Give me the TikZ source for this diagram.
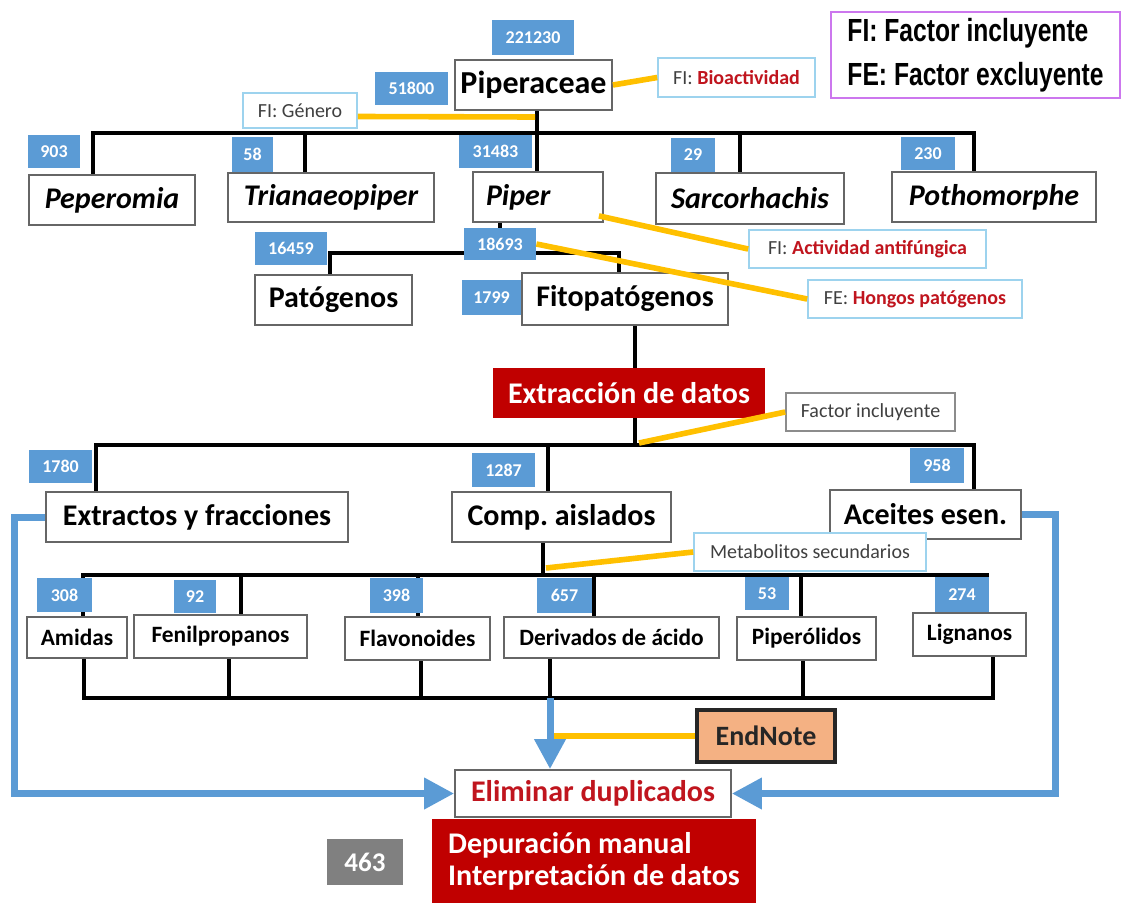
\documentclass[tikz,border=0pt]{standalone}
\usepackage{fontspec}
\setmainfont{Carlito}
\newfontfamily\legendfont[FakeStretch=0.77]{Liberation Sans}
\usetikzlibrary{calc}
\usetikzlibrary{arrows.meta}

\definecolor{cntblue}{HTML}{5B9BD5}
\definecolor{darkred}{HTML}{C00000}
\definecolor{txtred}{HTML}{C0151E}
\definecolor{linkyellow}{HTML}{FFC000}
\definecolor{noteline}{HTML}{9DD3EE}
\definecolor{legendline}{HTML}{CC77EE}
\definecolor{endfill}{HTML}{F4B183}
\newcommand{\fac}[1]{\textcolor{txtred}{\bfseries #1}}
\frenchspacing

\pgfdeclarelayer{back}
\pgfsetlayers{back,main}

\begin{document}
\begin{tikzpicture}[x=0.5pt,y=-0.5pt,
  sz/.style 2 args={minimum width=#1*0.5pt,minimum height=#2*0.5pt},
  gnode/.style={rectangle,draw=black!60,line width=0.9pt,fill=white,inner sep=0pt,font=\fontsize{15}{18}\selectfont\bfseries},
  genus/.style={gnode,font=\fontsize{15}{18}\selectfont\bfseries\itshape},
  class/.style={gnode,font=\fontsize{11.7}{14}\selectfont\bfseries},
  cnt/.style={rectangle,fill=cntblue,text=white,inner sep=0pt,font=\fontsize{9}{10}\selectfont\bfseries},
  note/.style={rectangle,draw=noteline,line width=0.8pt,fill=white,inner sep=0pt,text=black!75,font=\fontsize{10}{12}\selectfont},
  redbox/.style={rectangle,fill=darkred,text=white,inner sep=0pt,font=\fontsize{15}{16}\selectfont\bfseries},
  legend/.style={rectangle,draw=legendline,line width=0.9pt,inner sep=0pt,align=left,font=\legendfont\fontsize{16}{22}\selectfont\bfseries},
  endbox/.style={rectangle,draw=black!85,line width=1.8pt,fill=endfill,inner sep=0pt,text=black!85,font=\fontsize{14}{16}\selectfont\bfseries},
  greybox/.style={rectangle,fill=black!50,text=white,inner sep=0pt,font=\fontsize{13.5}{16}\selectfont\bfseries},
  tree/.style={line width=2pt,black},
  link/.style={line width=2.8pt,linkyellow},
  flow/.style={line width=3.5pt,cntblue,-{Triangle[length=15pt,width=15pt]}}]
\useasboundingbox (0,0) rectangle (1122,904);

% familia
\node[cnt,sz={82}{35}] (n221230) at (533,37.5) {221230};
\node[gnode,sz={157}{50},font=\fontsize{16}{19}\selectfont\bfseries] (piperaceae) at (533.5,85) {Piperaceae};
\node[cnt,sz={73}{33}] (n51800) at (411.5,88.5) {51800};
\node[note,sz={157}{39}] (fibio) at (736.5,77.5) {FI: \fac{Bioactividad}};
\node[legend,sz={289}{86}] (legend) at (975.5,55) {FI: Factor incluyente\\FE: Factor excluyente};
\node[note,sz={114}{35}] (figen) at (300,110.5) {FI: Género};

% generos
\node[genus,sz={166}{50}] (peperomia) at (112,200) {Peperomia};
\node[genus,sz={206}{49}] (trianaeopiper) at (331,197.5) {Trianaeopiper};
\node[genus,sz={130}{50},text width=52pt,align=left] (piper) at (538,197) {Piper};
\node[genus,sz={188}{51}] (sarcorhachis) at (750,198.5) {Sarcorhachis};
\node[genus,sz={204}{50}] (pothomorphe) at (994,197) {Pothomorphe};
\node[cnt,sz={52}{33}] (n903) at (54,151.5) {903};
\node[cnt,sz={41}{35}] (n58) at (252.5,154.5) {58};
\node[cnt,sz={73}{33}] (n31483) at (495.5,151.5) {31483};
\node[cnt,sz={44}{34}] (n29) at (693,155) {29};
\node[cnt,sz={54}{33}] (n230) at (928,153.5) {230};

% patogenos
\node[cnt,sz={72}{33}] (n16459) at (291,248.5) {16459};
\node[cnt,sz={72}{32}] (n18693) at (500,244) {18693};
\node[gnode,sz={157}{50}] (patogenos) at (333.5,300) {Patógenos};
\node[cnt,sz={59}{35}] (n1799) at (491.5,297.5) {1799};
\node[gnode,sz={206}{52}] (fitopatogenos) at (625,299) {Fitopatógenos};
\node[note,sz={237}{38}] (fianti) at (867.5,249) {FI: \fac{Actividad antifúngica}};
\node[note,sz={214}{38}] (fehongos) at (915,299) {FE: \fac{Hongos patógenos}};
\node[redbox,sz={272}{50}] (extraccion) at (629,393) {Extracción de datos};
\node[note,draw=black!45,sz={169}{38}] (factorinc) at (870.5,412) {Factor incluyente};

% tipo de producto
\node[cnt,sz={63}{33}] (n1780) at (60.5,466.5) {1780};
\node[gnode,sz={302}{50}] (extractos) at (197,517) {Extractos y fracciones};
\node[cnt,sz={63}{34}] (n1287) at (503.5,470) {1287};
\node[gnode,sz={219}{50}] (comp) at (561.5,517) {Comp. aislados};
\node[cnt,sz={54}{35}] (n958) at (937,465.5) {958};
\node[gnode,sz={191}{49}] (aceites) at (925.5,514.5) {Aceites esen.};
\node[note,sz={232}{38}] (metab) at (810,552) {Metabolitos secundarios};

% metabolitos
\node[cnt,sz={55}{34}] (n308) at (64.5,595) {308};
\node[cnt,sz={42}{33}] (n92) at (195,596.5) {92};
\node[cnt,sz={53}{35}] (n398) at (396.5,595.5) {398};
\node[cnt,sz={55}{35}] (n657) at (564.5,595.5) {657};
\node[cnt,sz={44}{33}] (n53) at (767,593.5) {53};
\node[cnt,sz={54}{35}] (n274) at (962,594.5) {274};
\node[class,sz={100}{41}] (amidas) at (77,637.5) {Amidas};
\node[class,sz={173}{43}] (fenil) at (220.5,636.5) {Fenilpropanos};
\node[class,sz={145}{43}] (flavo) at (417.5,638.5) {Flavonoides};
\node[class,sz={215}{41}] (deriv) at (611.5,637.5) {Derivados de ácido};
\node[class,sz={139}{43}] (piperol) at (806.5,638.5) {Piperólidos};
\node[class,sz={113}{43}] (lignanos) at (969.5,634.5) {Lignanos};

% depuracion
\node[endbox,sz={138}{52}] (endnote) at (766,736) {EndNote};
\node[gnode,sz={276}{47},text=txtred] (eliminar) at (593,793.5) {Eliminar duplicados};
\node[redbox,sz={324}{84},align=left] (depuracion) at (594,861) {Depuración manual\\Interpretación de datos};
\node[greybox,sz={76}{46}] (n463) at (365,862) {463};

\begin{pgfonlayer}{back}
\coordinate (bus1) at (537,133);
\coordinate (bus2) at (500,253);
\coordinate (bus3) at (635,445);
\coordinate (bus4) at (543,575);
\coordinate (bus5) at (550,698);
\draw[tree] (piperaceae.south -| bus1) -- (bus1);
\draw[tree] ($(peperomia.north)+(-19,0)$) |- (bus1) -| ($(pothomorphe.north)+(-20,0)$);
\draw[tree] (bus1) -- (bus1 |- piper.north);
\draw[tree] ($(trianaeopiper.north)+(-26,0)$) |- (bus1);
\draw[tree] ($(sarcorhachis.north)+(-10,0)$) |- (bus1);
\draw[tree] (bus2 |- piper.south) -- (bus2);
\draw[tree] ($(patogenos.north)+(-3.5,0)$) |- (bus2) -| ($(fitopatogenos.north)+(-6,0)$);
\draw[tree] ($(fitopatogenos.south)+(10,0)$) -- ($(extraccion.north)+(6,0)$);
\draw[tree] (bus3 |- extraccion.south) -- (bus3);
\draw[tree] ($(extractos.north)+(-101,0)$) |- (bus3) -| ($(aceites.north)+(48.5,0)$);
\draw[tree] (bus3) -| ($(comp.north)+(-13.5,0)$);
\draw[tree] (bus4 |- comp.south) -- (bus4);
\draw[tree] ($(amidas.north)+(6,0)$) |- (bus4) -| ($(lignanos.north)+(17.5,0)$);
\foreach \n/\dx in {fenil/20.5,flavo/0,deriv/-17.5,piperol/-5.5}
  \draw[tree] ($(\n.north)+(\dx,0)$) |- (bus4);
\draw[tree] ($(amidas.south)+(7,0)$) |- (bus5) -| ($(lignanos.south)+(23.5,0)$);
\foreach \n/\dx in {fenil/8.5,flavo/3.5,piperol/-3.5}
  \draw[tree] ($(\n.south)+(\dx,0)$) |- (bus5);
\draw[tree] (bus5 |- deriv.south) -- (bus5);
\end{pgfonlayer}

% factores
\draw[link] ($(figen.east)+(0,6)$) -- ($(bus1)+(-2,-16)$);
\draw[link] (piperaceae.east) -- (fibio.west);
\draw[link] ($(piper.south east)+(-5,-7)$) -- (fianti.west);
\draw[link] (n18693.east) -- (fehongos.west);
\draw[link] ($(bus3)+(4,-2)$) -- (factorinc.west);
\draw[link] ($(bus4)+(3,-7)$) -- (metab.west);
\draw[link] (endnote.west) -- (endnote.west -| bus5);

\draw[flow] (bus5) -- (bus5 |- eliminar.north);
\draw[flow] (extractos.west) -- ++(-31,0) |- (eliminar.west);
\draw[flow] (aceites.east) -- ++(34,0) |- (eliminar.east);
\end{tikzpicture}
\end{document}
